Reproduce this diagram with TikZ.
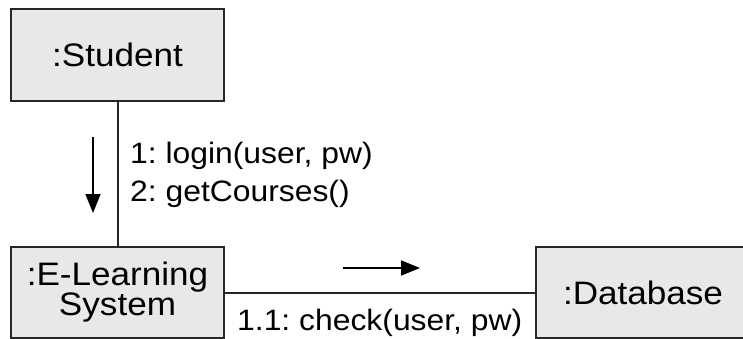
\documentclass[tikz,border=0pt]{standalone}
\usepackage{fontspec}
\setmainfont[FakeStretch=1.08]{Liberation Sans}
\usetikzlibrary{arrows.meta}
\frenchspacing
\begin{document}
\begin{tikzpicture}[x=1pt,y=-1pt,
  obj/.style={draw=black!85, line width=2pt, fill=black!9, inner sep=0pt,
    font=\fontsize{32.5}{30}\selectfont, align=center},
  conn/.style={draw=black!85, line width=2pt},
  msg/.style={-{Triangle[length=19pt,width=15pt]}, line width=1.6pt},
  lbl/.style={font=\fontsize{29.5}{28}\selectfont, inner sep=0pt, anchor=base west}]
\useasboundingbox (0,0) rectangle (743,339);
\node[obj, minimum width=213pt, minimum height=92pt] (student) at (117.5,55) {:Student};
\node[obj, minimum width=213pt, minimum height=91pt] (els) at (117.5,292.5) {:E-Learning\\System};
\node[obj, minimum width=214pt, minimum height=91pt] (db) at (643,292.5) {:Database};
\draw[conn] (student.south) -- (els.north);
\draw[conn] (els.east) -- (db.west);
\coordinate (d1) at (93,137);
\coordinate (d2) at (93,213);
\draw[msg] (d1) -- (d2);
\coordinate (r1) at (343,268);
\coordinate (r2) at (420,268);
\draw[msg] (r1) -- (r2);
\node[lbl] (m1) at (130,164) {1: login(user, pw)};
\node[lbl] (m2) at (130,201) {2: getCourses()};
\node[lbl] (m3) at (237,330) {1.1: check(user, pw)};
\end{tikzpicture}
\end{document}
